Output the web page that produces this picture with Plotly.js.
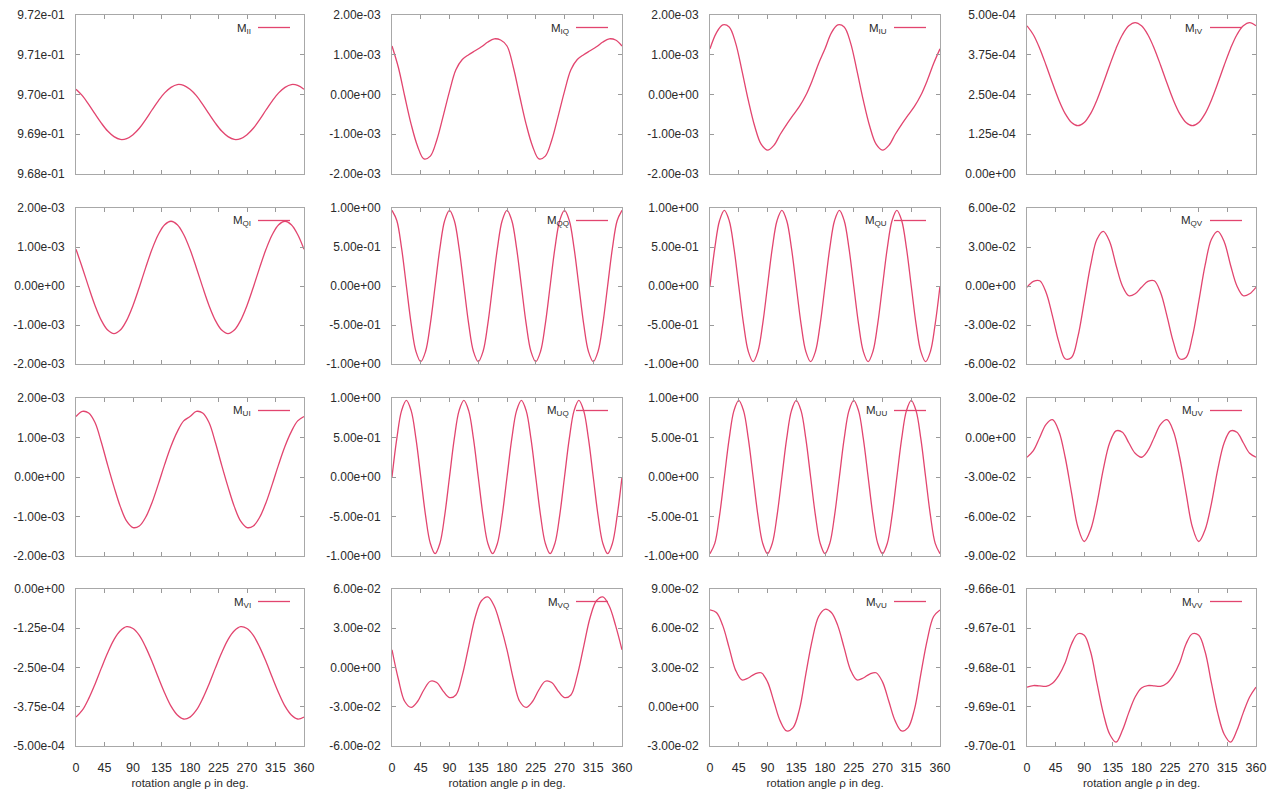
<!DOCTYPE html>
<html>
<head>
<meta charset="utf-8">
<script src="https://cdn.plot.ly/plotly-3.0.1.min.js"></script>
<style>
html,body{margin:0;padding:0;background:#fff;}
#chart{width:1280px;height:789px;}
</style>
</head>
<body>
<div id="chart"></div>
<script>
// ---------- angles (x values) ----------
const angle10 = [0,10,20,30,40,50,60,70,80,90,100,110,120,130,140,150,160,170,180,190,200,210,220,230,240,250,260,270,280,290,300,310,320,330,340,350,360];
const angle75 = [0,7.5,15,22.5,30,37.5,45,52.5,60,67.5,75,82.5,90,97.5,105,112.5,120,127.5,135,142.5,150,157.5,165,172.5,180,187.5,195,202.5,210,217.5,225,232.5,240,247.5,255,262.5,270,277.5,285,292.5,300,307.5,315,322.5,330,337.5,345,352.5,360];
const xTickVals = [0,45,90,135,180,225,270,315,360];
const xTickText = ['0','45','90','135','180','225','270','315','360'];
const xTitle = 'rotation angle \u03c1 in deg.';

// ---------- series ----------
const M_II = [0.97013,0.96997,0.96975,0.96951,0.96928,0.96908,0.96894,0.96887,0.96889,0.96899,0.96915,0.96937,0.96961,0.96984,0.97004,0.97018,0.97025,0.97023,0.97013,
              0.96997,0.96975,0.96951,0.96928,0.96908,0.96894,0.96887,0.96889,0.96899,0.96915,0.96937,0.96961,0.96984,0.97004,0.97018,0.97025,0.97023,0.97013];
const M_IQ = [1.22e-3,0.68e-3,-0.05e-3,-0.75e-3,-1.30e-3,-1.62e-3,-1.55e-3,-1.15e-3,-0.55e-3,0.08e-3,0.62e-3,0.88e-3,1.00e-3,1.10e-3,1.20e-3,1.32e-3,1.40e-3,1.37e-3,1.22e-3,
              0.68e-3,-0.05e-3,-0.75e-3,-1.30e-3,-1.62e-3,-1.55e-3,-1.15e-3,-0.55e-3,0.08e-3,0.62e-3,0.88e-3,1.00e-3,1.10e-3,1.20e-3,1.32e-3,1.40e-3,1.37e-3,1.22e-3];
const M_IU = [1.15e-3,1.55e-3,1.75e-3,1.70e-3,1.30e-3,0.60e-3,-0.15e-3,-0.80e-3,-1.25e-3,-1.40e-3,-1.28e-3,-1.00e-3,-0.75e-3,-0.52e-3,-0.30e-3,-0.02e-3,0.35e-3,0.78e-3,1.15e-3,
              1.55e-3,1.75e-3,1.70e-3,1.30e-3,0.60e-3,-0.15e-3,-0.80e-3,-1.25e-3,-1.40e-3,-1.28e-3,-1.00e-3,-0.75e-3,-0.52e-3,-0.30e-3,-0.02e-3,0.35e-3,0.78e-3,1.15e-3];
const M_IV = [4.66e-4,4.38e-4,3.95e-4,3.42e-4,2.86e-4,2.33e-4,1.90e-4,1.62e-4,1.52e-4,1.62e-4,1.90e-4,2.33e-4,2.86e-4,3.42e-4,3.95e-4,4.38e-4,4.66e-4,4.76e-4,4.66e-4,
              4.38e-4,3.95e-4,3.42e-4,2.86e-4,2.33e-4,1.90e-4,1.62e-4,1.52e-4,1.62e-4,1.90e-4,2.33e-4,2.86e-4,3.42e-4,3.95e-4,4.38e-4,4.66e-4,4.76e-4,4.66e-4];
const M_QI = [0.94e-3,0.47e-3,-0.03e-3,-0.50e-3,-0.88e-3,-1.13e-3,-1.22e-3,-1.13e-3,-0.88e-3,-0.50e-3,-0.03e-3,0.47e-3,0.94e-3,1.32e-3,1.57e-3,1.66e-3,1.57e-3,1.32e-3,0.94e-3,
              0.47e-3,-0.03e-3,-0.50e-3,-0.88e-3,-1.13e-3,-1.22e-3,-1.13e-3,-0.88e-3,-0.50e-3,-0.03e-3,0.47e-3,0.94e-3,1.32e-3,1.57e-3,1.66e-3,1.57e-3,1.32e-3,0.94e-3];
const M_QQ = [0.97,0.84,0.485,0,-0.485,-0.84,-0.97,-0.84,-0.485,0,0.485,0.84,
              0.97,0.84,0.485,0,-0.485,-0.84,-0.97,-0.84,-0.485,0,0.485,0.84,
              0.97,0.84,0.485,0,-0.485,-0.84,-0.97,-0.84,-0.485,0,0.485,0.84,
              0.97,0.84,0.485,0,-0.485,-0.84,-0.97,-0.84,-0.485,0,0.485,0.84,0.97];
const M_QU = [0,0.485,0.84,0.97,0.84,0.485,0,-0.485,-0.84,-0.97,-0.84,-0.485,
              0,0.485,0.84,0.97,0.84,0.485,0,-0.485,-0.84,-0.97,-0.84,-0.485,
              0,0.485,0.84,0.97,0.84,0.485,0,-0.485,-0.84,-0.97,-0.84,-0.485,
              0,0.485,0.84,0.97,0.84,0.485,0,-0.485,-0.84,-0.97,-0.84,-0.485,0];
const M_QV = [-0.1e-2,0.35e-2,0.4e-2,-0.5e-2,-2.3e-2,-4.3e-2,-5.6e-2,-5.5e-2,-3.9e-2,-1.2e-2,1.6e-2,3.6e-2,4.2e-2,3.4e-2,1.6e-2,0.0,-0.75e-2,-0.6e-2,-0.1e-2,
              0.35e-2,0.4e-2,-0.5e-2,-2.3e-2,-4.3e-2,-5.6e-2,-5.5e-2,-3.9e-2,-1.2e-2,1.6e-2,3.6e-2,4.2e-2,3.4e-2,1.6e-2,0.0,-0.75e-2,-0.6e-2,-0.1e-2];
const M_UI = [1.53e-3,1.66e-3,1.62e-3,1.38e-3,0.88e-3,0.30e-3,-0.25e-3,-0.75e-3,-1.12e-3,-1.28e-3,-1.24e-3,-1.02e-3,-0.65e-3,-0.18e-3,0.32e-3,0.78e-3,1.15e-3,1.42e-3,1.53e-3,
              1.66e-3,1.62e-3,1.38e-3,0.88e-3,0.30e-3,-0.25e-3,-0.75e-3,-1.12e-3,-1.28e-3,-1.24e-3,-1.02e-3,-0.65e-3,-0.18e-3,0.32e-3,0.78e-3,1.15e-3,1.42e-3,1.53e-3];
const M_UQ = [0,0.485,0.84,0.97,0.84,0.485,0,-0.485,-0.84,-0.97,-0.84,-0.485,
              0,0.485,0.84,0.97,0.84,0.485,0,-0.485,-0.84,-0.97,-0.84,-0.485,
              0,0.485,0.84,0.97,0.84,0.485,0,-0.485,-0.84,-0.97,-0.84,-0.485,
              0,0.485,0.84,0.97,0.84,0.485,0,-0.485,-0.84,-0.97,-0.84,-0.485,0];
const M_UU = [-0.97,-0.84,-0.485,0,0.485,0.84,0.97,0.84,0.485,0,-0.485,-0.84,
              -0.97,-0.84,-0.485,0,0.485,0.84,0.97,0.84,0.485,0,-0.485,-0.84,
              -0.97,-0.84,-0.485,0,0.485,0.84,0.97,0.84,0.485,0,-0.485,-0.84,
              -0.97,-0.84,-0.485,0,0.485,0.84,0.97,0.84,0.485,0,-0.485,-0.84,-0.97];
const M_UV = [-1.5e-2,-1.0e-2,0.0,1.0e-2,1.35e-2,0.5e-2,-1.5e-2,-4.2e-2,-6.8e-2,-7.9e-2,-7.0e-2,-5.0e-2,-2.4e-2,-0.4e-2,0.5e-2,0.4e-2,-0.4e-2,-1.2e-2,-1.5e-2,
              -1.0e-2,0.0,1.0e-2,1.35e-2,0.5e-2,-1.5e-2,-4.2e-2,-6.8e-2,-7.9e-2,-7.0e-2,-5.0e-2,-2.4e-2,-0.4e-2,0.5e-2,0.4e-2,-0.4e-2,-1.2e-2,-1.5e-2];
const M_VI = [-4.08e-4,-3.86e-4,-3.49e-4,-3.03e-4,-2.52e-4,-2.03e-4,-1.61e-4,-1.33e-4,-1.20e-4,-1.26e-4,-1.48e-4,-1.85e-4,-2.31e-4,-2.82e-4,-3.31e-4,-3.73e-4,-4.01e-4,-4.14e-4,-4.08e-4,
              -3.86e-4,-3.49e-4,-3.03e-4,-2.52e-4,-2.03e-4,-1.61e-4,-1.33e-4,-1.20e-4,-1.26e-4,-1.48e-4,-1.85e-4,-2.31e-4,-2.82e-4,-3.31e-4,-3.73e-4,-4.01e-4,-4.14e-4,-4.08e-4];
const M_VQ = [1.35e-2,-0.9e-2,-2.6e-2,-3.05e-2,-2.6e-2,-1.7e-2,-1.05e-2,-1.15e-2,-1.8e-2,-2.3e-2,-2.1e-2,-0.6e-2,1.6e-2,3.8e-2,5.1e-2,5.4e-2,4.7e-2,3.2e-2,1.35e-2,
              -0.9e-2,-2.6e-2,-3.05e-2,-2.6e-2,-1.7e-2,-1.05e-2,-1.15e-2,-1.8e-2,-2.3e-2,-2.1e-2,-0.6e-2,1.6e-2,3.8e-2,5.1e-2,5.4e-2,4.7e-2,3.2e-2,1.35e-2];
const M_VU = [7.4e-2,7.2e-2,6.2e-2,4.5e-2,2.8e-2,2.05e-2,2.2e-2,2.5e-2,2.6e-2,1.9e-2,0.4e-2,-1.1e-2,-1.85e-2,-1.6e-2,-0.2e-2,2.5e-2,5.1e-2,6.9e-2,7.45e-2,
              7.2e-2,6.2e-2,4.5e-2,2.8e-2,2.05e-2,2.2e-2,2.5e-2,2.6e-2,1.9e-2,0.4e-2,-1.1e-2,-1.85e-2,-1.6e-2,-0.2e-2,2.5e-2,5.1e-2,6.9e-2,7.4e-2];
const M_VV = [-0.96850,-0.96846,-0.96847,-0.96848,-0.96840,-0.96820,-0.96788,-0.96740,-0.96714,-0.96718,-0.96760,-0.96840,-0.96917,-0.96970,-0.96990,-0.96960,-0.96915,-0.96875,-0.96852,
              -0.96846,-0.96847,-0.96848,-0.96840,-0.96820,-0.96788,-0.96740,-0.96714,-0.96718,-0.96760,-0.96840,-0.96917,-0.96970,-0.96990,-0.96960,-0.96915,-0.96875,-0.96850];

// ---------- y tick values and labels ----------
const yT_II = [0.968,0.969,0.970,0.971,0.972];           const yL_II = ['9.68e-01','9.69e-01','9.70e-01','9.71e-01','9.72e-01'];
const yT_2m3 = [-2e-3,-1e-3,0,1e-3,2e-3];                 const yL_2m3 = ['-2.00e-03','-1.00e-03','0.00e+00','1.00e-03','2.00e-03'];
const yT_IV = [0,1.25e-4,2.5e-4,3.75e-4,5e-4];            const yL_IV = ['0.00e+00','1.25e-04','2.50e-04','3.75e-04','5.00e-04'];
const yT_1 = [-1,-0.5,0,0.5,1];                           const yL_1 = ['-1.00e+00','-5.00e-01','0.00e+00','5.00e-01','1.00e+00'];
const yT_6m2 = [-6e-2,-3e-2,0,3e-2,6e-2];                 const yL_6m2 = ['-6.00e-02','-3.00e-02','0.00e+00','3.00e-02','6.00e-02'];
const yT_UV = [-9e-2,-6e-2,-3e-2,0,3e-2];                 const yL_UV = ['-9.00e-02','-6.00e-02','-3.00e-02','0.00e+00','3.00e-02'];
const yT_VI = [-5e-4,-3.75e-4,-2.5e-4,-1.25e-4,0];        const yL_VI = ['-5.00e-04','-3.75e-04','-2.50e-04','-1.25e-04','0.00e+00'];
const yT_VU = [-3e-2,0,3e-2,6e-2,9e-2];                   const yL_VU = ['-3.00e-02','0.00e+00','3.00e-02','6.00e-02','9.00e-02'];
const yT_VV = [-0.970,-0.969,-0.968,-0.967,-0.966];       const yL_VV = ['-9.70e-01','-9.69e-01','-9.68e-01','-9.67e-01','-9.66e-01'];

const legendNames = ['M<sub>II</sub>','M<sub>IQ</sub>','M<sub>IU</sub>','M<sub>IV</sub>',
                     'M<sub>QI</sub>','M<sub>QQ</sub>','M<sub>QU</sub>','M<sub>QV</sub>',
                     'M<sub>UI</sub>','M<sub>UQ</sub>','M<sub>UU</sub>','M<sub>UV</sub>',
                     'M<sub>VI</sub>','M<sub>VQ</sub>','M<sub>VU</sub>','M<sub>VV</sub>'];

const panels = [
  {x:angle10, y:M_II, t:yT_II,  l:yL_II},
  {x:angle10, y:M_IQ, t:yT_2m3, l:yL_2m3},
  {x:angle10, y:M_IU, t:yT_2m3, l:yL_2m3},
  {x:angle10, y:M_IV, t:yT_IV,  l:yL_IV},
  {x:angle10, y:M_QI, t:yT_2m3, l:yL_2m3},
  {x:angle75, y:M_QQ, t:yT_1,   l:yL_1},
  {x:angle75, y:M_QU, t:yT_1,   l:yL_1},
  {x:angle10, y:M_QV, t:yT_6m2, l:yL_6m2},
  {x:angle10, y:M_UI, t:yT_2m3, l:yL_2m3},
  {x:angle75, y:M_UQ, t:yT_1,   l:yL_1},
  {x:angle75, y:M_UU, t:yT_1,   l:yL_1},
  {x:angle10, y:M_UV, t:yT_UV,  l:yL_UV},
  {x:angle10, y:M_VI, t:yT_VI,  l:yL_VI},
  {x:angle10, y:M_VQ, t:yT_6m2, l:yL_6m2},
  {x:angle10, y:M_VU, t:yT_VU,  l:yL_VU},
  {x:angle10, y:M_VV, t:yT_VV,  l:yL_VV}
];

// ---------- layout ----------
const W = 1280, H = 789;
const colPx = [[76,304],[392,622],[710,940],[1027,1256]];
const rowPx = [[15,174],[208,364],[398,556],[589,746]];
const lineColor = '#e2456f';
const FONT = 'Liberation Sans, Arial, Helvetica, sans-serif';
const tickFont = {family: FONT, size: 12, color: '#2a2a2a'};

const data = [];
const layout = {
  width: W, height: H,
  margin: {l:0, r:0, t:0, b:0},
  paper_bgcolor: '#ffffff', plot_bgcolor: '#ffffff',
  showlegend: false,
  font: {family: FONT},
  shapes: [], annotations: []
};

panels.forEach((p, i) => {
  const r = Math.floor(i / 4), c = i % 4;
  const k = i + 1;
  const xa = 'xaxis' + (k === 1 ? '' : k), ya = 'yaxis' + (k === 1 ? '' : k);
  const xr = 'x' + (k === 1 ? '' : k), yr = 'y' + (k === 1 ? '' : k);
  data.push({
    type: 'scatter', mode: 'lines', x: p.x, y: p.y,
    xaxis: xr, yaxis: yr,
    line: {color: lineColor, width: 1.3, shape: 'spline', smoothing: 1},
    hoverinfo: 'skip'
  });
  const wPx = colPx[c][1] - colPx[c][0], hPx = rowPx[r][1] - rowPx[r][0];
  layout[xa] = {
    domain: [colPx[c][0] / W, colPx[c][1] / W],
    anchor: yr, range: [0, 360],
    tickmode: 'array', tickvals: xTickVals, ticktext: xTickText,
    showticklabels: r === 3, ticks: 'inside', ticklen: 4, tickcolor: '#9a9a9a', tickwidth: 1,
    showline: true, linecolor: '#a8a8a8', linewidth: 1, mirror: 'allticks',
    showgrid: false, zeroline: false, tickfont: {family: FONT, size: 12.5, color: '#2a2a2a'},
    ticklabelstandoff: 10,
    fixedrange: true
  };
  if (r === 3) {
    layout[xa].title = {text: xTitle, font: {family: FONT, size: 11.5, color: '#2a2a2a'}, standoff: 6};
  }
  layout[ya] = {
    domain: [1 - rowPx[r][1] / H, 1 - rowPx[r][0] / H],
    anchor: xr, range: [p.t[0], p.t[p.t.length - 1]],
    tickmode: 'array', tickvals: p.t, ticktext: p.l,
    ticks: 'inside', ticklen: 4, tickcolor: '#9a9a9a', tickwidth: 1,
    showline: true, linecolor: '#a8a8a8', linewidth: 1, mirror: 'allticks',
    showgrid: false, zeroline: false, tickfont: tickFont, ticklabelstandoff: 8,
    fixedrange: true
  };
  // legend (gnuplot style: text then line sample, top-right)
  const ly = 1 - 12.5 / hPx;
  layout.shapes.push({
    type: 'line', xref: xr + ' domain', yref: yr + ' domain',
    x0: 1 - 46 / wPx, x1: 1 - 14 / wPx, y0: ly, y1: ly,
    line: {color: lineColor, width: 1.3}
  });
  layout.annotations.push({
    xref: xr + ' domain', yref: yr + ' domain',
    x: 1 - 51 / wPx, y: 1 - 13.5 / hPx, xanchor: 'right', yanchor: 'middle',
    text: legendNames[i], showarrow: false,
    font: {family: FONT, size: 11.5, color: '#2a2a2a'}
  });
});

Plotly.newPlot('chart', data, layout, {displayModeBar: false, staticPlot: true});
</script>
</body>
</html>
